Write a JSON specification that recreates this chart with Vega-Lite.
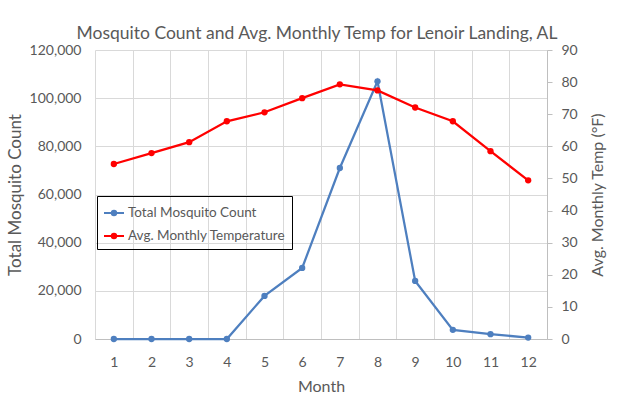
{
  "$schema": "https://vega.github.io/schema/vega-lite/v6.json",
  "width": 452,
  "height": 289,
  "autosize": {"type": "none"},
  "padding": {"left": 95, "top": 50, "right": 83, "bottom": 60},
  "background": "white",
  "title": {
    "text": "Mosquito Count and Avg. Monthly Temp for Lenoir Landing, AL",
    "font": "Lato",
    "fontSize": 17.5,
    "fontWeight": "normal",
    "color": "#595959",
    "anchor": "middle",
    "frame": "group",
    "dx": -4,
    "dy": 9,
    "offset": 10
  },
  "data": {
    "values": [
      {"month": 1, "count": 0, "temp": 54.5},
      {"month": 2, "count": 0, "temp": 57.9},
      {"month": 3, "count": 0, "temp": 61.3},
      {"month": 4, "count": 0, "temp": 67.8},
      {"month": 5, "count": 17900, "temp": 70.6},
      {"month": 6, "count": 29500, "temp": 75.0},
      {"month": 7, "count": 71000, "temp": 79.3},
      {"month": 8, "count": 107000, "temp": 77.4},
      {"month": 9, "count": 24100, "temp": 72.1},
      {"month": 10, "count": 3800, "temp": 67.8},
      {"month": 11, "count": 2000, "temp": 58.5},
      {"month": 12, "count": 600, "temp": 49.4}
    ]
  },
  "encoding": {
    "x": {
      "field": "month",
      "type": "ordinal",
      "scale": {"type": "band", "paddingInner": 0, "paddingOuter": 0},
      "axis": {
        "title": "Month",
        "labelAngle": 0,
        "tickBand": "extent",
        "grid": true,
        "ticks": false,
        "domainColor": "#bfbfbf",
        "labelPadding": 16,
        "titlePadding": 9
      }
    }
  },
  "layer": [
    {
      "mark": {"type": "line", "strokeWidth": 2.25, "point": {"size": 40, "filled": true}},
      "encoding": {
        "y": {
          "field": "count",
          "type": "quantitative",
          "scale": {"domain": [0, 120000]},
          "axis": {
            "title": "Total Mosquito Count",
            "values": [0, 20000, 40000, 60000, 80000, 100000, 120000],
            "format": ",.0f",
            "domain": false,
            "ticks": false,
            "grid": true,
            "labelPadding": 14,
            "titlePadding": 5,
            "titleFontSize": 17
          }
        },
        "color": {
          "datum": "Total Mosquito Count",
          "type": "nominal",
          "scale": {
            "domain": ["Total Mosquito Count", "Avg. Monthly Temperature"],
            "range": ["#4E7FBF", "#FF0000"]
          },
          "legend": {
            "title": null,
            "orient": "none",
            "legendX": 2,
            "legendY": 146,
            "strokeColor": "black",
            "padding": 6,
            "rowPadding": 5,
            "symbolType": "M-1,0H1M-0.22,0A0.22,0.22,0,1,1,0.22,0A0.22,0.22,0,1,1,-0.22,0",
            "symbolSize": 400,
            "symbolStrokeWidth": 2,
            "labelFontSize": 13.5,
            "labelOffset": 3,
            "symbolOffset": 0,
            "encode": {
              "symbols": {"update": {"fill": {"scale": "color", "field": "value"}}}
            }
          }
        }
      }
    },
    {
      "mark": {"type": "line", "strokeWidth": 2.25, "point": {"size": 40, "filled": true}},
      "encoding": {
        "y": {
          "field": "temp",
          "type": "quantitative",
          "scale": {"domain": [0, 90]},
          "axis": {
            "orient": "right",
            "title": "Avg. Monthly Temp (°F)",
            "values": [0, 10, 20, 30, 40, 50, 60, 70, 80, 90],
            "grid": false,
            "domain": true,
            "ticks": true,
            "tickSize": 5,
            "domainColor": "#bfbfbf",
            "tickColor": "#bfbfbf",
            "titleAngle": 270,
            "titleBaseline": "middle",
            "labelPadding": 9,
            "titlePadding": 20,
            "titleFontSize": 16
          }
        },
        "color": {"datum": "Avg. Monthly Temperature", "type": "nominal"}
      }
    }
  ],
  "resolve": {"scale": {"y": "independent"}},
  "config": {
    "font": "Lato",
    "view": {"stroke": null},
    "axis": {
      "labelFont": "Lato",
      "titleFont": "Lato",
      "labelFontSize": 14,
      "titleFontSize": 16,
      "titleFontWeight": "normal",
      "labelColor": "#595959",
      "titleColor": "#595959",
      "gridColor": "#d9d9d9",
      "gridWidth": 1
    },
    "legend": {
      "labelFont": "Lato",
      "labelColor": "#595959"
    }
  }
}
